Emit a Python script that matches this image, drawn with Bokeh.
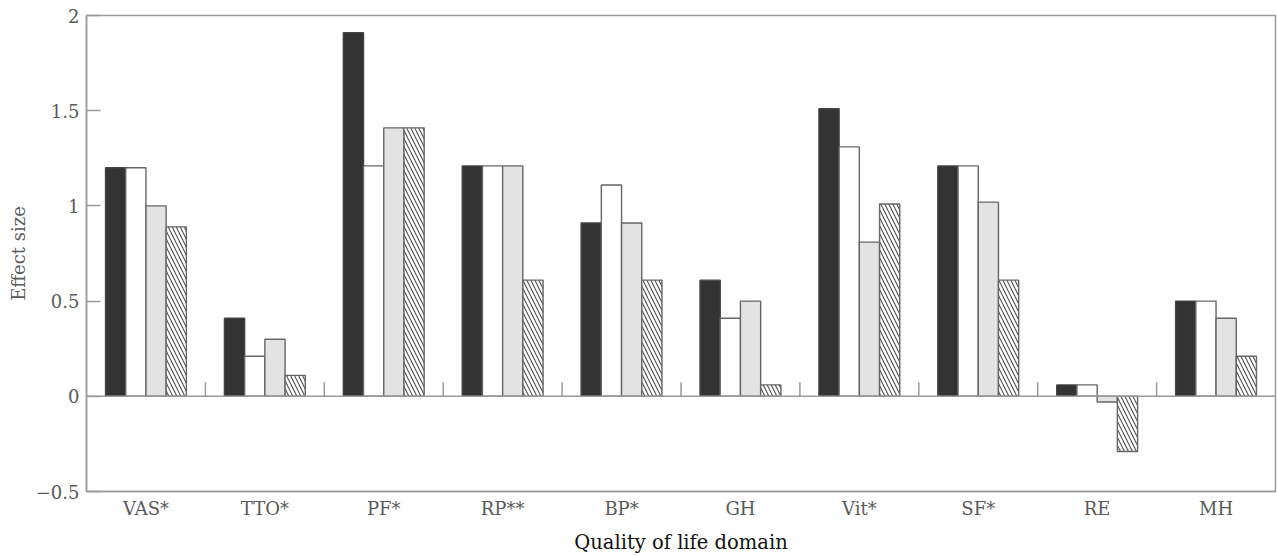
import numpy as np
from bokeh.plotting import figure
from bokeh.models import FixedTicker, Span, CustomJSTickFormatter, Range1d, ColumnDataSource
from bokeh.embed import file_html
from bokeh.resources import INLINE

categories = ["VAS*", "TTO*", "PF*", "RP**", "BP*", "GH", "Vit*", "SF*", "RE", "MH"]
series_black = [1.20, 0.41, 1.91, 1.21, 0.91, 0.61, 1.51, 1.21, 0.06, 0.50]
series_white = [1.20, 0.21, 1.21, 1.21, 1.11, 0.41, 1.31, 1.21, 0.06, 0.50]
series_gray = [1.00, 0.30, 1.41, 1.21, 0.91, 0.50, 0.81, 1.02, -0.03, 0.41]
series_hatch = [0.89, 0.11, 1.41, 0.61, 0.61, 0.06, 1.01, 0.61, -0.29, 0.21]
yticks = [-0.5, 0, 0.5, 1, 1.5, 2]

FONT = "DejaVu Serif"
AX = "#9a9a9a"

n = len(categories)
centers = np.arange(n) + 0.5

p = figure(width=1277, height=556, output_backend="svg", toolbar_location=None,
           x_range=Range1d(0, n), y_range=Range1d(-0.5, 2))
p.min_border_left = 86
p.min_border_right = 2
p.min_border_top = 15
p.min_border_bottom = 63
p.background_fill_color = "white"
p.border_fill_color = "white"
p.outline_line_color = AX
p.outline_line_width = 1.5
p.grid.visible = False

bw = 0.17
offsets = [-1.5 * bw, -0.5 * bw, 0.5 * bw, 1.5 * bw]
styles = [
    dict(fill_color="#333333", line_color="#444444"),
    dict(fill_color="white", line_color="#666666"),
    dict(fill_color="#e3e3e3", line_color="#666666"),
    dict(fill_color="white", line_color="#666666", hatch_pattern="\\", hatch_color="#555555",
         hatch_scale=8, hatch_weight=1.2),
]
for vals, off, st in zip([series_black, series_white, series_gray, series_hatch], offsets, styles):
    src = ColumnDataSource(dict(x=centers + off, top=vals))
    p.vbar(x="x", top="top", bottom=0, width=bw, source=src, line_width=1.4, **st)

p.add_layout(Span(location=0, dimension="width", line_color=AX, line_width=1.5))
bounds = np.arange(1, n)
p.ray(x=bounds, y=np.zeros(len(bounds)), length=14, length_units="screen",
      angle=np.pi / 2, line_color=AX, line_width=1.5)

# x axis
xa = p.xaxis[0]
xa.ticker = FixedTicker(ticks=list(centers))
xa.major_label_overrides = {float(c): lab for c, lab in zip(centers, categories)}
xa.major_tick_in = 0
xa.major_tick_out = 0
xa.minor_tick_line_color = None
xa.axis_line_color = AX
xa.axis_line_width = 1.5
xa.major_label_text_font = FONT
xa.major_label_text_font_size = "18px"
xa.major_label_text_color = "#5a5a5a"
xa.major_label_standoff = 6
xa.axis_label = "Quality of life domain"
xa.axis_label_text_font = FONT
xa.axis_label_text_font_size = "19.5px"
xa.axis_label_text_font_style = "normal"
xa.axis_label_text_color = "#111111"
xa.axis_label_standoff = 9

# y axis
ya = p.yaxis[0]
ya.ticker = FixedTicker(ticks=yticks)
ya.formatter = CustomJSTickFormatter(code="return tick < 0 ? '\u2212' + Math.abs(tick) : String(tick);")
ya.major_tick_in = 14
ya.major_tick_out = 0
ya.major_tick_line_color = AX
ya.major_tick_line_width = 1.5
ya.minor_tick_line_color = None
ya.axis_line_color = AX
ya.axis_line_width = 1.5
ya.major_label_text_font = FONT
ya.major_label_text_font_size = "18px"
ya.major_label_text_color = "#5a5a5a"
ya.major_label_standoff = 7
ya.axis_label = "Effect size"
ya.axis_label_text_font = FONT
ya.axis_label_text_font_size = "18px"
ya.axis_label_text_font_style = "normal"
ya.axis_label_text_color = "#5a5a5a"
ya.axis_label_standoff = 4

open("out.html", "w").write(file_html(p, INLINE))
